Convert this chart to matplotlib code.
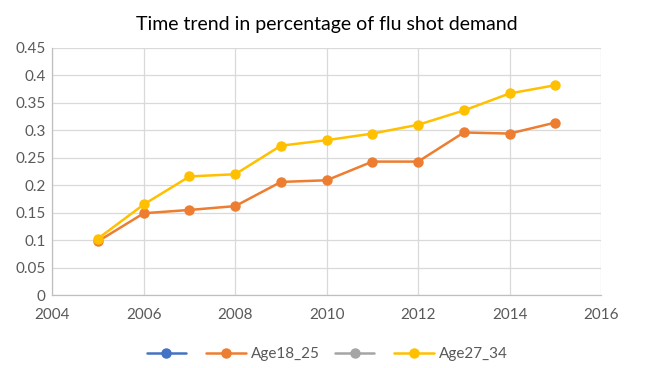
import matplotlib
matplotlib.use('Agg')
import matplotlib.pyplot as plt
from matplotlib.ticker import MultipleLocator, FuncFormatter

years = [2005, 2006, 2007, 2008, 2009, 2010, 2011, 2012, 2013, 2014, 2015]
age18_25 = [0.098, 0.149, 0.155, 0.162, 0.206, 0.209, 0.243, 0.243, 0.296, 0.294, 0.314]
age27_34 = [0.103, 0.165, 0.216, 0.220, 0.272, 0.282, 0.294, 0.310, 0.336, 0.367, 0.382]
# two series in the legend have no visible points
blank_a = []
blank_b = []

plt.rcParams['font.family'] = ['Lato', 'DejaVu Sans']

fig = plt.figure(figsize=(6.54, 3.68), dpi=100)
ax = fig.add_axes([0.080, 0.198, 0.839, 0.672])

style = dict(lw=1.8, marker='o', ms=6.5, solid_capstyle='round')
h1, = ax.plot(blank_a, blank_a, color='#4472C4', **style)
h2, = ax.plot(years, age18_25, color='#ED7D31', **style)
h3, = ax.plot(blank_b, blank_b, color='#A5A5A5', **style)
h4, = ax.plot(years, age27_34, color='#FFC000', **style)

ax.set_xlim(2004, 2016)
ax.set_ylim(0, 0.45)
ax.xaxis.set_major_locator(MultipleLocator(2))
ax.yaxis.set_major_locator(MultipleLocator(0.05))
ax.yaxis.set_major_formatter(FuncFormatter(lambda v, p: '0' if abs(v) < 1e-9 else ('%.2f' % v).rstrip('0')))

ax.grid(True, color='#D9D9D9', lw=0.9)
ax.set_axisbelow(True)
for s in ['top', 'right']:
    ax.spines[s].set_visible(False)
for s in ['left', 'bottom']:
    ax.spines[s].set_color('#BFBFBF')
    ax.spines[s].set_linewidth(0.9)
ax.tick_params(length=0, colors='#595959', labelsize=11)
ax.tick_params(axis='x', pad=9)
ax.tick_params(axis='y', pad=5)

ax.set_title('Time trend in percentage of flu shot demand', fontsize=14, color='#000000', pad=13)

fig.legend([h1, h2, h3, h4], ['', 'Age18_25', '', 'Age27_34'], loc='lower center',
           bbox_to_anchor=(0.5, -0.018), ncol=4, frameon=False, fontsize=11,
           labelcolor='#595959', handlelength=2.6, columnspacing=1.0, handletextpad=0.3)

fig.savefig('out.png', dpi=100)
